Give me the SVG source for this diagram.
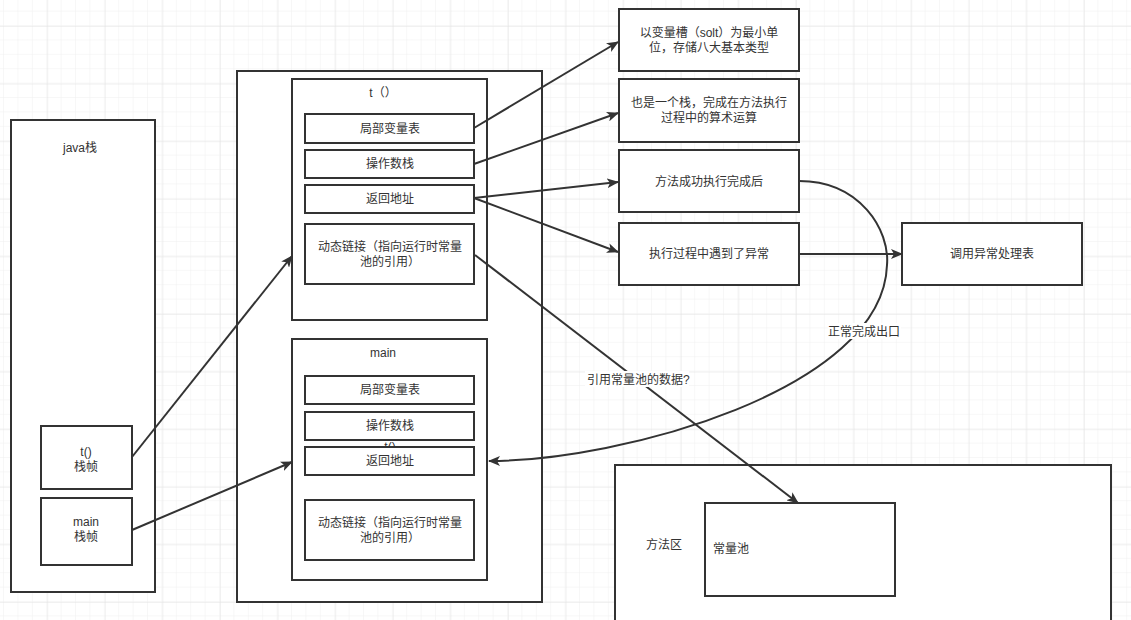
<svg xmlns="http://www.w3.org/2000/svg" width="1131" height="620" viewBox="0 0 1131 620">
<defs>
<pattern id="minor" x="47.2" y="26" width="14.4" height="14.4" patternUnits="userSpaceOnUse">
<path d="M14.4 0V14.4M0 14.4H14.4" fill="none" stroke="#efefef" stroke-width="1"/>
</pattern>
<pattern id="major" x="47.2" y="26" width="57.6" height="57.6" patternUnits="userSpaceOnUse">
<path d="M0 0V57.6M0 0H57.6" fill="none" stroke="#e3e3e3" stroke-width="1"/>
</pattern>
<marker id="arr" viewBox="0 0 12 10" refX="11" refY="5" markerWidth="12" markerHeight="10" markerUnits="userSpaceOnUse" orient="auto">
<path d="M0 0L12 5L0 10L3 5Z" fill="#333"/>
</marker>
<style>
.box{fill:#fff;stroke:#333;stroke-width:2}
.t{font-family:"Liberation Sans","Noto Sans CJK SC",sans-serif;font-size:12px;fill:#333;text-anchor:middle}
.tl{font-family:"Liberation Sans","Noto Sans CJK SC",sans-serif;font-size:12px;fill:#333}
.c{fill:none;stroke:#333;stroke-width:2}
.lbg{fill:#fff}
</style>
</defs>
<rect width="1131" height="620" fill="#fff"/>
<rect width="1131" height="620" fill="url(#minor)"/>
<rect width="1131" height="620" fill="url(#major)"/>

<g id="java-stack">
<rect class="box" x="11" y="120" width="144" height="472"/>
<text class="t" x="80" y="152">java栈</text>
</g>
<g id="t-frame-ref">
<rect class="box" x="41" y="426" width="91" height="63"/>
<text class="t" x="86" y="456">t()</text>
<text class="t" x="86" y="471">栈帧</text>
</g>
<g id="main-frame-ref">
<rect class="box" x="41" y="498" width="91" height="67"/>
<text class="t" x="86" y="526">main</text>
<text class="t" x="86" y="541">栈帧</text>
</g>

<g id="stack-container">
<rect class="box" x="237" y="71" width="305" height="531"/>
</g>

<g id="t-frame">
<rect class="box" x="292" y="79" width="195" height="241"/>
<text class="t" x="383" y="97">t（）</text>
</g>
<g id="t-locals"><rect class="box" x="305" y="114" width="169" height="29"/><text class="t" x="390" y="133">局部变量表</text></g>
<g id="t-operand"><rect class="box" x="305" y="150" width="169" height="28"/><text class="t" x="390" y="168">操作数栈</text></g>
<g id="t-return"><rect class="box" x="305" y="185" width="169" height="28"/><text class="t" x="390" y="203">返回地址</text></g>
<g id="t-dynlink"><rect class="box" x="305" y="224" width="169" height="60"/><text class="t" x="390" y="251">动态链接（指向运行时常量</text><text class="t" x="390" y="266">池的引用）</text></g>

<g id="main-frame">
<rect class="box" x="292" y="339" width="195" height="241"/>
<text class="t" x="383" y="357">main</text>
</g>
<g id="main-locals"><rect class="box" x="305" y="376" width="169" height="28"/><text class="t" x="390" y="394">局部变量表</text></g>
<g id="main-operand"><rect class="box" x="305" y="412" width="169" height="28"/><text class="t" x="390" y="430">操作数栈</text></g>
<g id="hidden-label"><text class="t" x="390" y="451">t()</text></g>
<g id="main-return"><rect class="box" x="305" y="447" width="169" height="28"/><text class="t" x="390" y="465">返回地址</text></g>
<g id="main-dynlink"><rect class="box" x="305" y="500" width="169" height="60"/><text class="t" x="390" y="527">动态链接（指向运行时常量</text><text class="t" x="390" y="542">池的引用）</text></g>

<g id="note-locals"><rect class="box" x="619" y="9" width="180" height="62"/><text class="t" x="709" y="37">以变量槽（solt）为最小单</text><text class="t" x="709" y="52">位，存储八大基本类型</text></g>
<g id="note-operand"><rect class="box" x="619" y="79" width="180" height="63"/><text class="t" x="709" y="107">也是一个栈，完成在方法执行</text><text class="t" x="709" y="122">过程中的算术运算</text></g>
<g id="note-success"><rect class="box" x="619" y="150" width="180" height="62"/><text class="t" x="709" y="186">方法成功执行完成后</text></g>
<g id="note-exception"><rect class="box" x="619" y="223" width="180" height="62"/><text class="t" x="709" y="258">执行过程中遇到了异常</text></g>
<g id="exception-table"><rect class="box" x="902" y="223" width="180" height="62"/><text class="t" x="992" y="258">调用异常处理表</text></g>

<g id="method-area">
<rect class="box" x="615" y="465" width="496" height="170"/>
<text class="t" x="664" y="549">方法区</text>
</g>
<g id="constant-pool">
<rect class="box" x="705" y="503" width="190" height="93"/>
<text class="tl" x="713" y="553">常量池</text>
</g>

<g id="connectors">
<path class="c" d="M132 457L292 256" marker-end="url(#arr)"/>
<path class="c" d="M132 530L292 462" marker-end="url(#arr)"/>
<path class="c" d="M474 128L618 42" marker-end="url(#arr)"/>
<path class="c" d="M474 164L618 113" marker-end="url(#arr)"/>
<path class="c" d="M474 198L618 182" marker-end="url(#arr)"/>
<path class="c" d="M474 198L618 252" marker-end="url(#arr)"/>
<path class="c" d="M799 254L902 254" marker-end="url(#arr)"/>
<path class="c" d="M475 255L798 503" marker-end="url(#arr)"/>
<path class="c" d="M799 181C860 181 890 230 887 265C883 390 620 461 489 461" marker-end="url(#arr)"/>
<rect class="lbg" x="585" y="371" width="104" height="16"/>
<text class="tl" x="587" y="384">引用常量池的数据?</text>
<rect class="lbg" x="828" y="323" width="73" height="16"/>
<text class="t" x="864" y="336">正常完成出口</text>
</g>
</svg>
